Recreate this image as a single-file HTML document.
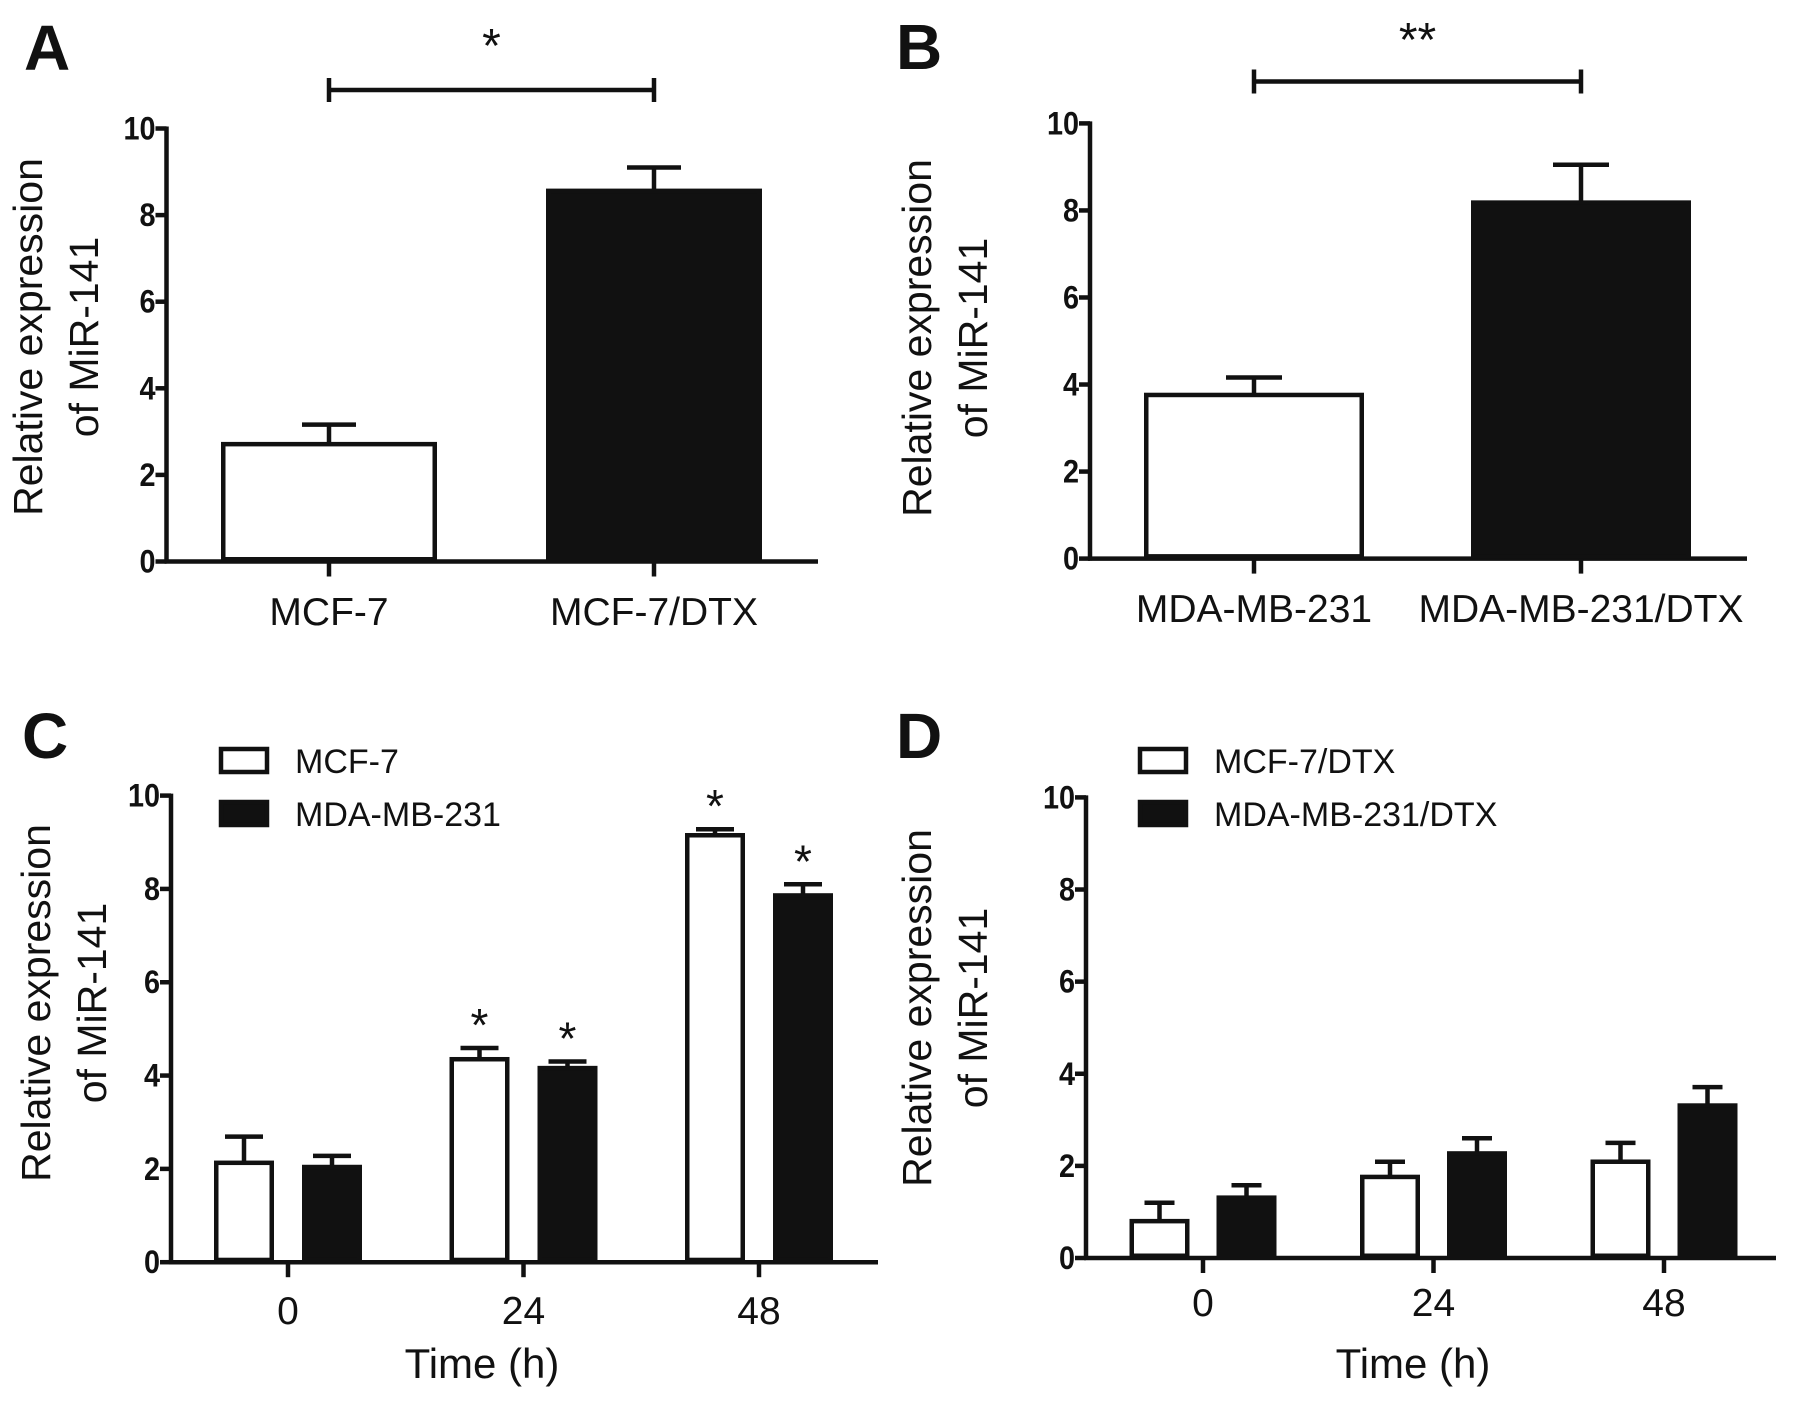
<!DOCTYPE html>
<html><head><meta charset="utf-8">
<style>
html,body{margin:0;padding:0;background:#fff;}
svg{display:block;}
text{font-family:"Liberation Sans",Arial,sans-serif;fill:#111;}
</style></head>
<body>
<svg id="fig" width="1795" height="1404" viewBox="0 0 1795 1404" xmlns="http://www.w3.org/2000/svg">
<rect width="1795" height="1404" fill="#fff"/>
</svg>
<script>
const yTicks = [0, 2, 4, 6, 8, 10];
const yTickLabels = ["0", "2", "4", "6", "8", "10"];

const catsA = ["MCF-7", "MCF-7/DTX"];
const valsA = [2.71, 8.56];
const errA = [0.45, 0.54];

const catsB = ["MDA-MB-231", "MDA-MB-231/DTX"];
const valsB = [3.76, 8.18];
const errB = [0.40, 0.87];

const timesC = ["0", "24", "48"];
const seriesNamesC = ["MCF-7", "MDA-MB-231"];
const c1 = [2.13, 4.35, 9.15];
const c1err = [0.56, 0.24, 0.13];
const c2 = [2.04, 4.16, 7.86];
const c2err = [0.24, 0.14, 0.24];
const c1sig = [false, true, true];
const c2sig = [false, true, true];

const timesD = ["0", "24", "48"];
const seriesNamesD = ["MCF-7/DTX", "MDA-MB-231/DTX"];
const d1 = [0.80, 1.76, 2.09];
const d1err = [0.40, 0.33, 0.41];
const d2 = [1.31, 2.27, 3.31];
const d2err = [0.27, 0.33, 0.40];

const NS = "http://www.w3.org/2000/svg";
const svg = document.getElementById("fig");
const LW = 4.5;
function mk(tag, attrs, parent, txt) {
  const e = document.createElementNS(NS, tag);
  for (const k in attrs) e.setAttribute(k, attrs[k]);
  if (txt !== undefined) e.textContent = txt;
  (parent || svg).appendChild(e);
  return e;
}
function line(g, x1, y1, x2, y2, name) {
  const l = mk("line", {x1, y1, x2, y2, stroke: "#111", "stroke-width": LW}, g);
  
  
  return l;
}

function panel(p) {
  const g = mk("g", {});
  
  
  const y = v => p.y0 - v * (p.y0 - p.y10) / 10;
  const x = i => p.xs + i * p.xstep;
  const L = mk("text", {x: p.letterX, y: p.letterY, "font-size": 64, "font-weight": "bold"}, g, p.letter);
  
  
  const t1 = mk("text", {x: 0, y: 0, "font-size": 41, "text-anchor": "middle", transform: `translate(${p.t1x},${p.tcy}) rotate(-90)`}, g, "Relative expression");
  
  
  const t2 = mk("text", {x: 0, y: 0, "font-size": 41, "text-anchor": "middle", transform: `translate(${p.t2x},${p.tcy}) rotate(-90)`}, g, "of MiR-141");
  
  
  line(g, p.ax, y(10) - 2, p.ax, p.y0 + 2, 'y-axis-line');
  line(g, p.ax - 2, p.y0, p.axEnd, p.y0, 'x-axis-line');
  yTicks.forEach((v, i) => {
    line(g, p.ax - 11, y(v), p.ax, y(v), 'y-tick');
    const tl = mk("text", {x: 0, y: 0, "font-size": 32, "font-weight": "bold", "text-anchor": "end",
      transform: `translate(${p.ax - 11},${y(v) + 11}) scale(0.9,1)`}, g, yTickLabels[i]);
    
    
  });
  p.cats.forEach((c, i) => {
    line(g, x(i), p.y0, x(i), p.y0 + 15, 'x-tick');
    const tl = mk("text", {x: x(i), y: p.catY, "font-size": 39, "text-anchor": "middle"}, g, c);
    
    
  });
  p.series.forEach((s) => {
    s.vals.forEach((v, i) => {
      const cx = x(i) + s.off;
      const fill = s.fills ? s.fills[i] : s.fill;
      const top = y(v), et = y(v + s.err[i]);
      line(g, cx, top, cx, et, 'error-bar');
      line(g, cx - p.cap, et, cx + p.cap, et, 'error-cap');
      const r = mk("rect", {x: cx - p.bw / 2 + LW / 2, y: top, width: p.bw - LW, height: p.y0 - top - LW / 2,
        fill: fill, stroke: "#111", "stroke-width": LW}, g);
      
      
      if (s.sig && s.sig[i]) {
        const st = mk("text", {x: cx, y: et - 34 + 27, "font-size": 46, "text-anchor": "middle"}, g, "*");
        
        
      }
    });
  });
  if (p.bracket) {
    const b = p.bracket;
    line(g, x(0), b.y, x(1), b.y, 'significance-bracket');
    line(g, x(0), b.y - 12, x(0), b.y + 12, 'bracket-end');
    line(g, x(1), b.y - 12, x(1), b.y + 12, 'bracket-end');
    const st = mk("text", {x: (x(0) + x(1)) / 2, y: b.sy, "font-size": 48, "text-anchor": "middle"}, g, b.txt);
    
    
  }
  if (p.legend) {
    const l = p.legend;
    p.series.forEach((s, si) => {
      const yy = l.y + si * 53;
      const r = mk("rect", {x: l.x + 2, y: yy + 2, width: 46, height: 23, fill: s.fill, stroke: "#111", "stroke-width": LW}, g);
      
      
      const t = mk("text", {x: l.x + 76, y: yy + 26, "font-size": 34}, g, s.name);
      
      
    });
    const tt = mk("text", {x: l.tx, y: 1378, "font-size": 42, "text-anchor": "middle"}, g, "Time (h)");
    
    
  }
}

panel({id: "a", letter: "A", letterX: 24, letterY: 70, t1x: 42, t2x: 98, tcy: 337,
  ax: 166.5, axEnd: 818, y0: 561.5, y10: 128.5, xs: 329, xstep: 325, cats: catsA, catY: 625,
  bw: 216, cap: 27, bracket: {y: 90, sy: 62, txt: "*"},
  series: [{name: "group", names: catsA, off: 0, fills: ["#fff", "#111"], vals: valsA, err: errA}]});
panel({id: "b", letter: "B", letterX: 896, letterY: 69, t1x: 931, t2x: 987, tcy: 338,
  ax: 1090, axEnd: 1747, y0: 558.6, y10: 123.4, xs: 1254, xstep: 327, cats: catsB, catY: 622,
  bw: 220, cap: 28, bracket: {y: 81.5, sy: 56, txt: "**"},
  series: [{name: "group", names: catsB, off: 0, fills: ["#fff", "#111"], vals: valsB, err: errB}]});
panel({id: "c", letter: "C", letterX: 22, letterY: 758, t1x: 50, t2x: 106, tcy: 1003,
  ax: 171, axEnd: 878, y0: 1262.2, y10: 795.6, xs: 288, xstep: 235.5, cats: timesC, catY: 1324,
  bw: 60, cap: 19, legend: {x: 219, y: 747, tx: 482},
  series: [{name: seriesNamesC[0], off: -44, fill: "#fff", vals: c1, err: c1err, sig: c1sig},
           {name: seriesNamesC[1], off: 44, fill: "#111", vals: c2, err: c2err, sig: c2sig}]});
panel({id: "d", letter: "D", letterX: 896, letterY: 758, t1x: 931, t2x: 987, tcy: 1008,
  ax: 1086, axEnd: 1776, y0: 1258, y10: 797.4, xs: 1203, xstep: 230.5, cats: timesD, catY: 1316,
  bw: 60, cap: 15, legend: {x: 1138, y: 747, tx: 1413},
  series: [{name: seriesNamesD[0], off: -43.5, fill: "#fff", vals: d1, err: d1err},
           {name: seriesNamesD[1], off: 43.5, fill: "#111", vals: d2, err: d2err}]});
</script>
</body></html>
